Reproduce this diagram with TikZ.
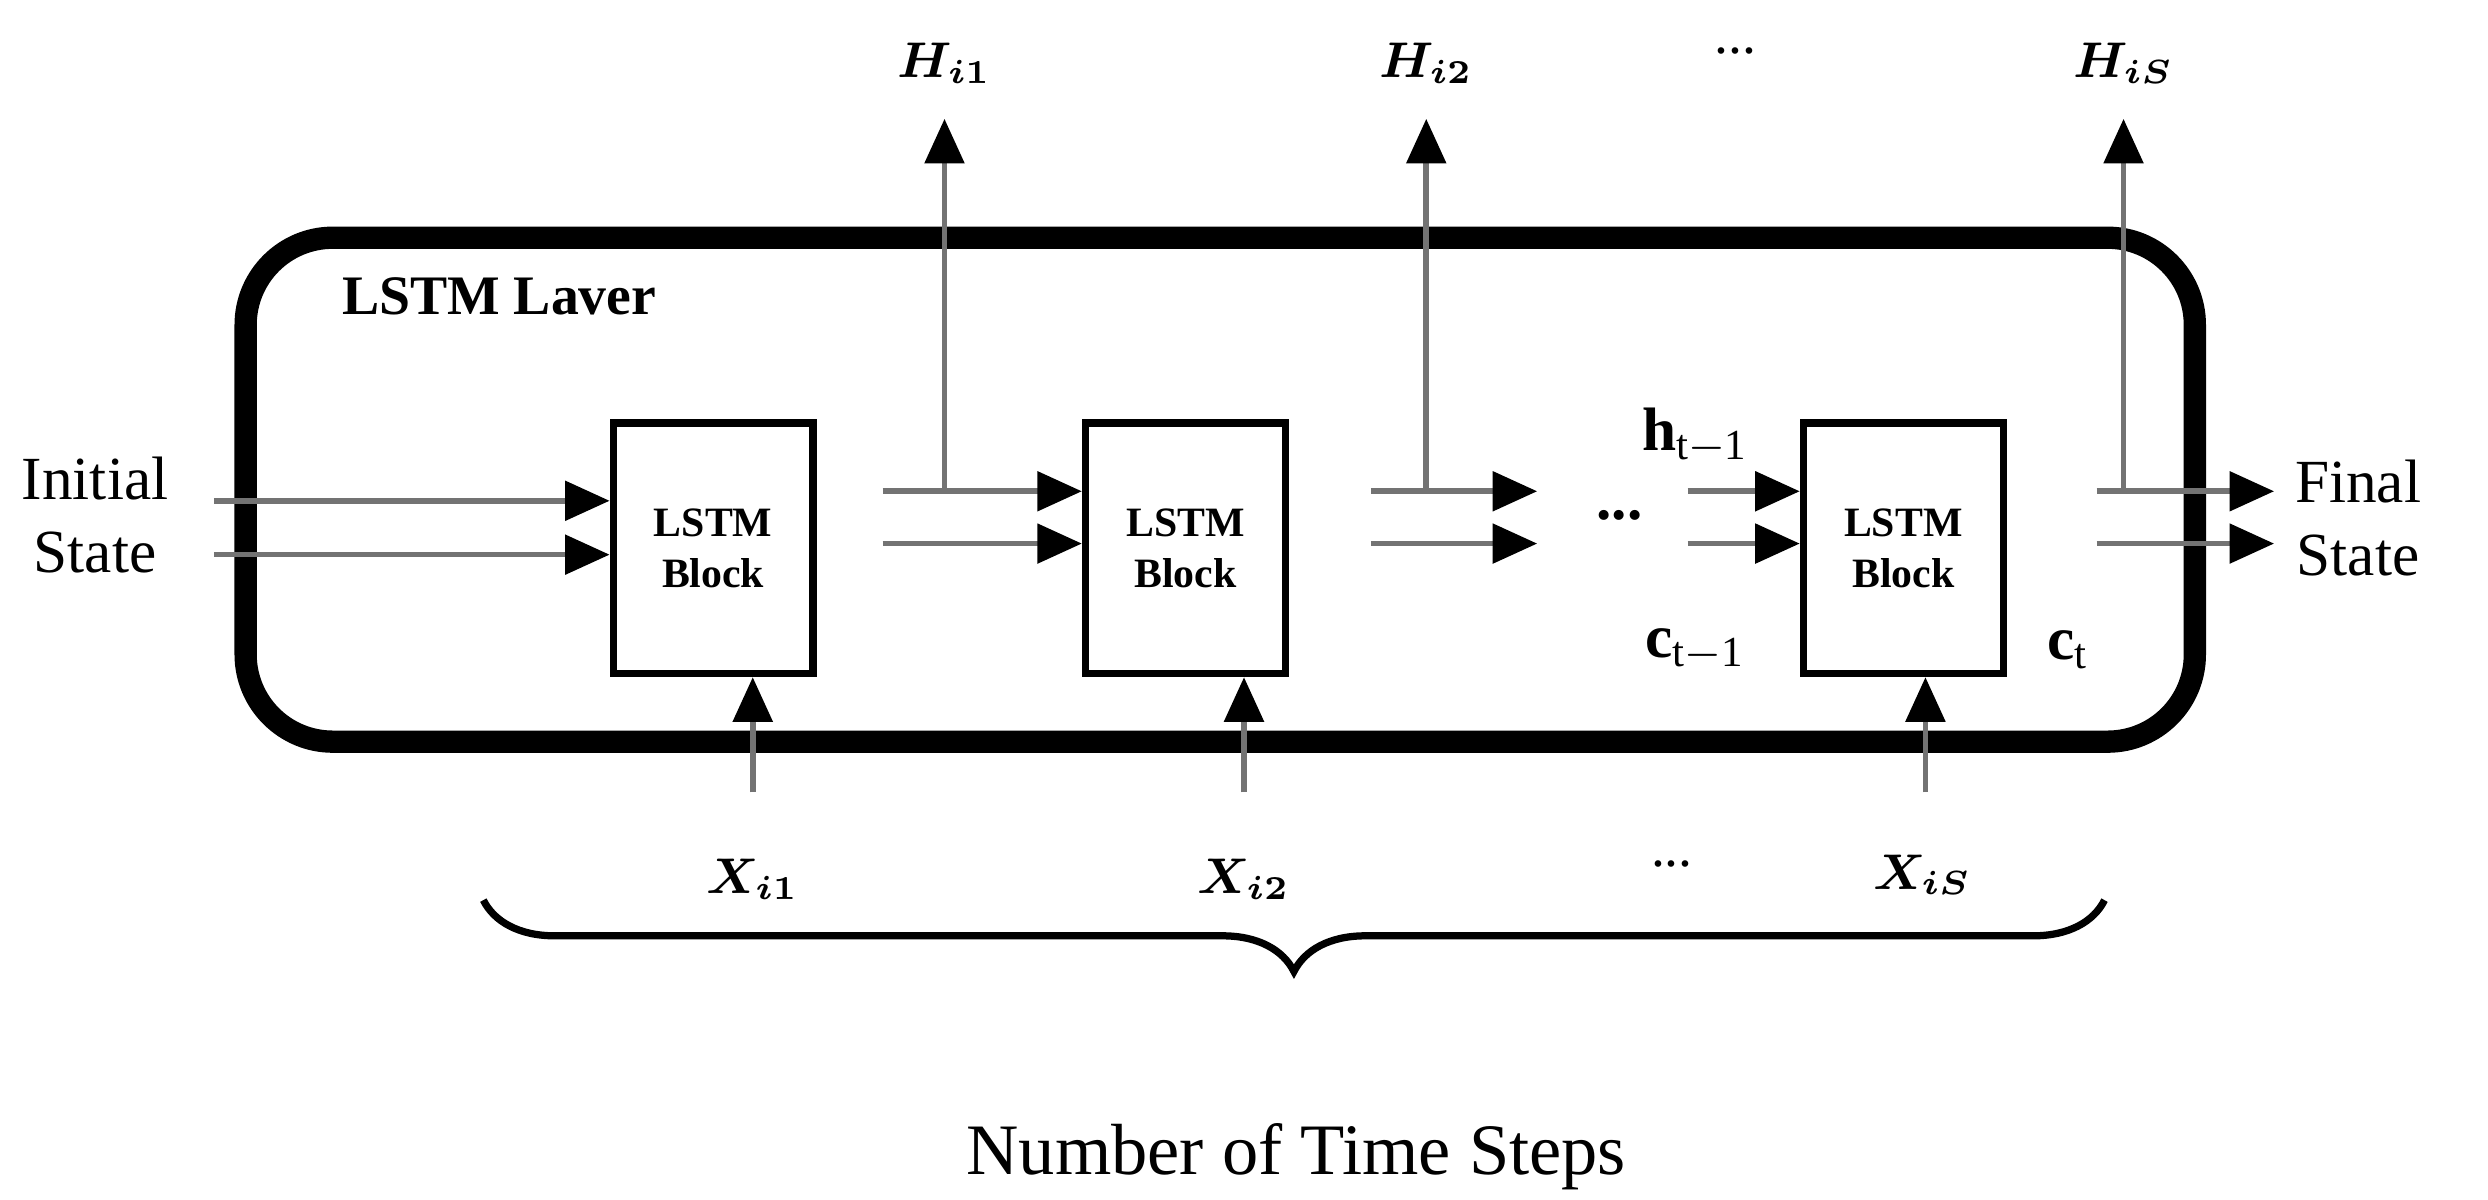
\documentclass[tikz,border=0pt]{standalone}
\usepackage{amsmath,amssymb,bm}
\usepackage{fontspec}
\setmainfont{Liberation Serif}
\usetikzlibrary{arrows.meta,decorations.pathreplacing}
\begin{document}
\begin{tikzpicture}[x=0.01cm,y=-0.01cm,
 arr/.style={draw=black!55,line width=1pt,-{Triangle[length=8pt,width=7pt,black]}},
 blk/.style={draw,line width=1.3pt,minimum width=1.26cm,minimum height=1.58cm,align=center,font=\fontsize{7.5}{9}\selectfont\bfseries},
 lab/.style={font=\fontsize{9}{11}\selectfont\bfseries\itshape},
 txt/.style={font=\fontsize{11}{13}\selectfont,align=center}]
\useasboundingbox (0,0) rectangle (1570,757);
\draw[line width=4pt,rounded corners=0.55cm] (155,150) rectangle (1385,468);
\node[font=\fontsize{10}{12}\selectfont\bfseries] (title) at (315,187) {LSTM Laver};
\node[blk] (b1) at (450,346) {LSTM\\Block};
\node[blk] (b2) at (748,346) {LSTM\\Block};
\node[blk] (b3) at (1201,346) {LSTM\\Block};
\node[txt] (init) at (60,325) {Initial\\State};
\node[txt] (fin) at (1488,327) {Final\\State};
\coordinate (i1) at (135,316); \coordinate (i1e) at (b1.west|-i1);
\coordinate (i2) at (135,350); \coordinate (i2e) at (b1.west|-i2);
\draw[arr] (i1) -- (i1e); \draw[arr] (i2) -- (i2e);
\coordinate (a1) at (557,310); \coordinate (a1e) at (b2.west|-a1);
\coordinate (a2) at (557,343); \coordinate (a2e) at (b2.west|-a2);
\draw[arr] (a1) -- (a1e); \draw[arr] (a2) -- (a2e);
\coordinate (t1) at (596,310); \node[lab] (H1) at (596,40) {$\bm{H_{i1}}$};
\coordinate (t1e) at (596,75); \draw[arr] (t1) -- (t1e);
\node[font=\fontsize{11}{13}\selectfont] (d1) at (1022,325) {\textbf{...}};
\coordinate (c1) at (865,310); \coordinate (c1e) at (970,310);
\coordinate (c2) at (865,343); \coordinate (c2e) at (970,343);
\draw[arr] (c1) -- (c1e); \draw[arr] (c2) -- (c2e);
\coordinate (t2) at (900,310); \coordinate (t2e) at (900,75);
\draw[arr] (t2) -- (t2e); \node[lab] (H2) at (900,40) {$\bm{H_{i2}}$};
\node (d2) at (1095,32) {...};
\coordinate (e1) at (1065,310); \coordinate (e1e) at (b3.west|-e1);
\coordinate (e2) at (1065,343); \coordinate (e2e) at (b3.west|-e2);
\draw[arr] (e1) -- (e1e); \draw[arr] (e2) -- (e2e);
\node[font=\fontsize{11}{13}\selectfont] (h) at (1070,275) {$\mathbf{h}_{\mathrm{t-1}}$};
\node[font=\fontsize{11}{13}\selectfont] (c) at (1070,410) {$\mathbf{c}_{\mathrm{t-1}}$};
\node[font=\fontsize{11}{13}\selectfont] (ct) at (1305,410) {$\mathbf{c}_{\mathrm{t}}$};
\coordinate (f1) at (1323,310); \coordinate (f1e) at (1435,310);
\coordinate (f2) at (1323,343); \coordinate (f2e) at (1435,343);
\draw[arr] (f1) -- (f1e); \draw[arr] (f2) -- (f2e);
\coordinate (t3) at (1340,310); \coordinate (t3e) at (1340,75);
\draw[arr] (t3) -- (t3e); \node[lab] (H3) at (1340,40) {$\bm{H_{iS}}$};
\node[lab] (X1) at (475,555) {$\bm{X_{i1}}$};
\node[lab] (X2) at (785,555) {$\bm{X_{i2}}$};
\node[lab] (X3) at (1213,552) {$\bm{X_{iS}}$};
\node (d3) at (1055,545) {...};
\coordinate (u1) at (475,500); \coordinate (u2) at (785,500); \coordinate (u3) at (1215,500);
\draw[arr] (u1) -- (u1|-b1.south); \draw[arr] (u2) -- (u2|-b2.south); \draw[arr] (u3) -- (u3|-b3.south);
\coordinate (bl) at (305,568); \coordinate (br) at (1328,568);
\draw[line width=1.3pt,decorate,decoration={brace,mirror,amplitude=0.45cm}] (bl) -- (br);
\node[font=\fontsize{13}{15}\selectfont] (n) at (818,730) {Number of Time Steps};
\end{tikzpicture}
\end{document}
